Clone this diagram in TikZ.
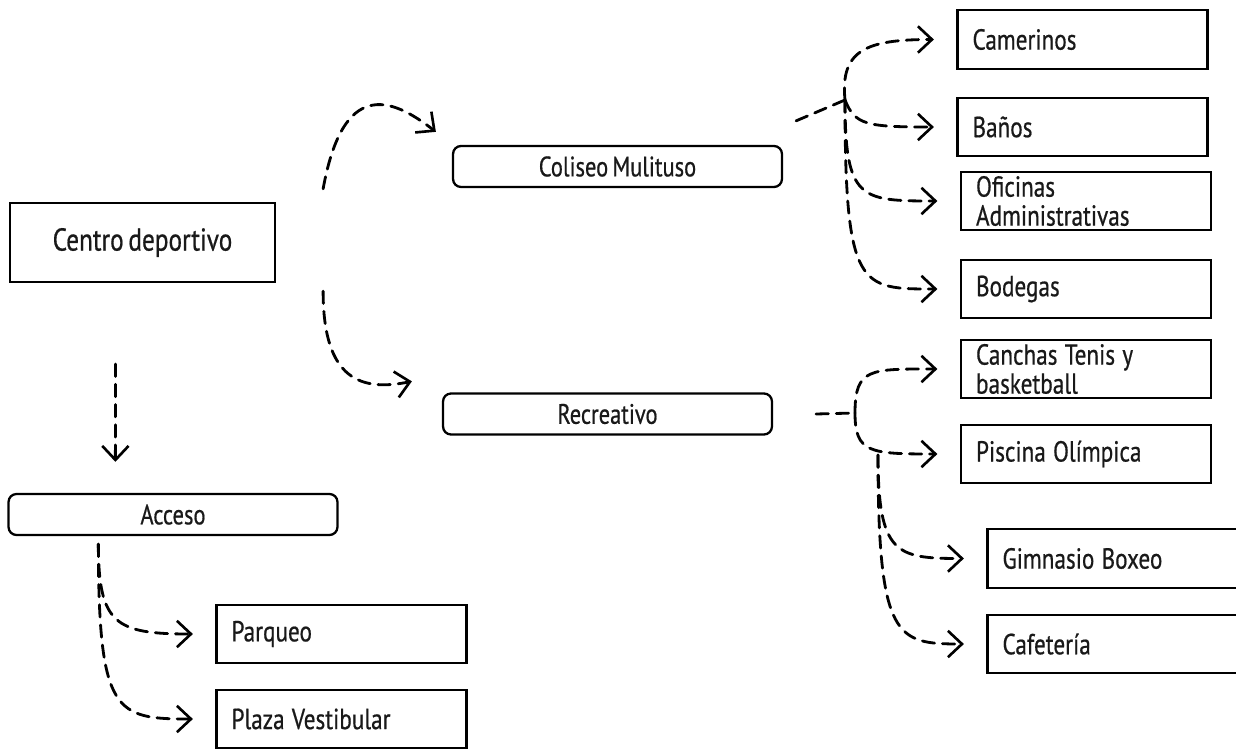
\documentclass[tikz,border=0pt]{standalone}
\usepackage{fontspec}
\setmainfont[FakeStretch=0.8, FakeBold=0.6, WordSpace=0.7]{PT Sans}
\usetikzlibrary{arrows.meta, positioning, calc}

\tikzset{
    box/.style={draw, line width=1.3pt, inner sep=0pt, text=black!90},
    mainbox/.style={box, minimum width=5.3cm, minimum height=1.58cm, font=\fontsize{18}{18}\selectfont},
    roundbox/.style={box, rounded corners=0.16cm, minimum width=6.58cm, minimum height=0.82cm, font=\fontsize{16}{16}\selectfont},
    leafbox/.style={box, text width=4.4cm, inner xsep=0.3cm, minimum height=1.17cm, align=left,
        font=\fontsize{16.5}{16.5}\selectfont, execute at begin node={\spaceskip=.25em plus .1em\relax}},
    link/.style={line width=1.6pt, dash pattern=on 7pt off 4.5pt, line cap=round},
    conn/.style={link, -{Straight Barb[length=8pt, width=15pt, line width=1.5pt]}, shorten >=0.45cm},
}

\begin{document}
\begin{tikzpicture}[x=0.02cm, y=-0.02cm]
    \useasboundingbox (0,0) rectangle (1236,749);

    \node[mainbox] (centro) at (142.5,242.5) {Centro deportivo};
    \node[roundbox] (coliseo) at (617.5,166.5) {Coliseo Mulituso};
    \node[roundbox] (recreativo) at (607.5,414) {Recreativo};
    \node[roundbox] (acceso) at (173,514.5) {Acceso};

    \node[leafbox] (camerinos) at (1082.5,39.5) {Camerinos};
    \node[leafbox] (banos) at (1082.5,127) {Baños};
    \node[leafbox] (oficinas) at (1086,201) {Oficinas\\Administrativas};
    \node[leafbox] (bodegas) at (1086,289) {Bodegas};
    \node[leafbox] (canchas) at (1086,369) {Canchas Tenis y\\basketball};
    \node[leafbox] (piscina) at (1086,454) {Piscina Olímpica};
    \node[leafbox] (gimnasio) at (1112.5,558.5) {Gimnasio Boxeo};
    \node[leafbox] (cafeteria) at (1112.5,644) {Cafetería};
    \node[leafbox] (parqueo) at (341.5,634) {Parqueo};
    \node[leafbox] (plaza) at (341.5,719) {Plaza Vestibular};

    % junctions
    \coordinate (jc) at (845,100);
    \coordinate (jr) at (855,413);
    \coordinate (jg) at (878,455);
    \coordinate (ja) at ($(acceso.south west)+(91,8)$);

    % centro
    \draw[conn, shorten >=0pt] ($(centro.north east)+(47,-13)$) .. controls +(20,-110) and +(-45,-35) .. ($(coliseo.north west)+(-16,-13)$);
    \draw[conn, shorten >=0pt] ($(centro.south east)+(47,8)$) .. controls +(0,90) and +(-50,10) .. ($(recreativo.north west)+(-30,-11)$);
    \draw[conn, shorten >=0pt] ($(centro.south)+(-27,81)$) -- ($(acceso.north west)+(108,-31)$);

    % coliseo
    \draw[link] ($(coliseo.north east)+(13,-24)$) -- (jc);
    \draw[conn] (jc) .. controls +(-5,-50) and +(-90,0) .. (camerinos.west);
    \draw[conn] (jc) .. controls +(10,25) and +(-90,0) .. (banos.west);
    \draw[conn] (jc) .. controls +(0,100) and +(-100,0) .. (oficinas.west);
    \draw[conn] (jc) .. controls +(0,190) and +(-100,0) .. (bodegas.west);

    % recreativo
    \draw[link] ($(recreativo.east)+(43,0)$) -- (jr);
    \draw[conn] (jr) .. controls +(0,-45) and +(-90,0) .. (canchas.west);
    \draw[conn] (jr) .. controls +(0,40) and +(-90,0) .. (piscina.west);
    \draw[conn] (jg) .. controls +(0,100) and +(-90,0) .. (gimnasio.west);
    \draw[conn] (jg) .. controls +(0,185) and +(-90,0) .. (cafeteria.west);

    % acceso
    \draw[conn] (ja) .. controls +(0,80) and +(-100,0) .. (parqueo.west);
    \draw[conn] (ja) .. controls +(0,170) and +(-100,0) .. (plaza.west);

\end{tikzpicture}
\end{document}
